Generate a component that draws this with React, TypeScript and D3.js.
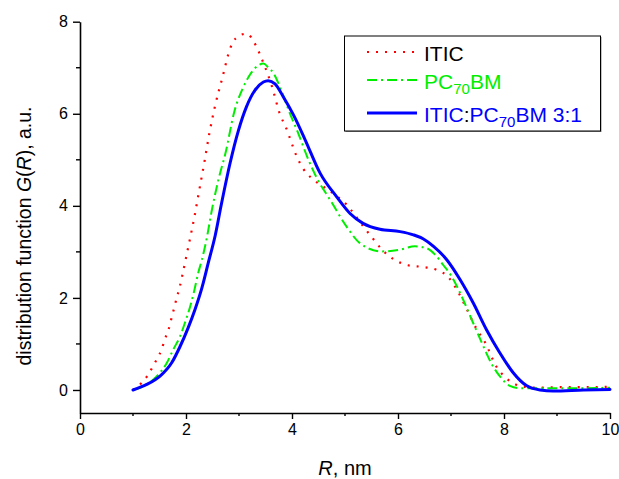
import React, { useEffect, useRef } from "react";
import * as d3 from "d3";

// ITIC (red dotted)
const iticR = [1.0, 1.16, 1.28, 1.37, 1.46, 1.54, 1.6, 1.67, 1.72, 1.77, 1.82, 1.88, 1.94, 2.0, 2.06, 2.16, 2.25, 2.35, 2.44, 2.55, 2.69, 2.83, 2.94, 3.14, 3.32, 3.43, 3.62, 3.77, 3.89, 4.08, 4.21, 4.37, 4.59, 4.81, 5.02, 5.2, 5.36, 5.52, 5.69, 5.93, 6.19, 6.48, 6.73, 6.95, 7.11, 7.3, 7.48, 7.64, 7.86, 8.05, 8.3, 8.58, 9.0, 9.5, 10];
const iticG = [0, 0.15, 0.32, 0.5, 0.69, 0.88, 1.1, 1.31, 1.53, 1.75, 1.98, 2.23, 2.54, 2.87, 3.2, 3.77, 4.34, 4.97, 5.57, 6.18, 6.8, 7.41, 7.64, 7.74, 7.48, 7.19, 6.6, 6.0, 5.69, 5.1, 4.81, 4.6, 4.42, 4.24, 4.04, 3.78, 3.53, 3.3, 3.06, 2.83, 2.71, 2.67, 2.61, 2.45, 2.18, 1.75, 1.33, 1.04, 0.5, 0.25, 0.09, 0.05, 0.06, 0.06, 0.07];

// PC70BM (green dash-dot)
const pcbmR = [1.0, 1.26, 1.45, 1.64, 1.76, 1.89, 1.98, 2.08, 2.16, 2.23, 2.3, 2.38, 2.5, 2.61, 2.75, 2.91, 3.07, 3.18, 3.3, 3.46, 3.55, 3.65, 3.81, 3.95, 4.12, 4.31, 4.47, 4.72, 5.03, 5.28, 5.69, 6.04, 6.32, 6.54, 6.7, 6.85, 7.01, 7.23, 7.39, 7.58, 7.77, 7.92, 8.11, 8.3, 8.7, 9.5, 10];
const pcbmG = [0, 0.12, 0.3, 0.59, 0.88, 1.17, 1.46, 1.82, 2.18, 2.54, 2.83, 3.23, 3.98, 4.56, 5.17, 6.04, 6.55, 6.8, 6.99, 7.09, 7.01, 6.88, 6.47, 6.04, 5.57, 5.0, 4.6, 4.13, 3.55, 3.19, 3.01, 3.05, 3.12, 3.08, 2.94, 2.72, 2.47, 1.96, 1.53, 1.03, 0.56, 0.3, 0.09, 0.04, 0.04, 0.04, 0.05];

// ITIC:PC70BM 3:1 (blue solid)
const blendR = [1.0, 1.26, 1.51, 1.73, 1.89, 2.04, 2.17, 2.3, 2.42, 2.55, 2.67, 2.83, 2.99, 3.14, 3.3, 3.46, 3.55, 3.68, 3.84, 4.03, 4.25, 4.53, 4.84, 5.09, 5.34, 5.66, 6.04, 6.29, 6.48, 6.67, 6.92, 7.17, 7.42, 7.67, 7.92, 8.17, 8.43, 8.68, 8.93, 9.5, 10];
const blendG = [0, 0.12, 0.3, 0.59, 0.95, 1.35, 1.75, 2.22, 2.76, 3.35, 4.05, 4.92, 5.64, 6.15, 6.51, 6.69, 6.72, 6.65, 6.36, 5.97, 5.43, 4.71, 4.2, 3.84, 3.62, 3.49, 3.44, 3.37, 3.28, 3.12, 2.83, 2.4, 1.89, 1.31, 0.81, 0.38, 0.09, 0.0, -0.02, 0.0, 0.01];

const xMajor = [0, 2, 4, 6, 8, 10];
const xMinor = [1, 3, 5, 7, 9];
const yMajor = [0, 2, 4, 6, 8];
const yMinor = [1, 3, 5, 7];

const FONT = "'Liberation Sans', Arial, sans-serif";

const App = () => {
  const svgRef = useRef<SVGSVGElement>(null);

  useEffect(() => {
    const svg = d3.select(svgRef.current);
    svg.selectAll("*").remove();

    const x = d3.scaleLinear().domain([0, 10]).range([80, 610]);
    const y = d3.scaleLinear().domain([-0.5, 8]).range([413, 21.7]);

    // axes
    const xAxis = d3.axisBottom(x).tickValues(xMajor).tickSize(6).tickSizeOuter(0).tickPadding(5);
    const yAxis = d3.axisLeft(y).tickValues(yMajor).tickSize(7).tickSizeOuter(0).tickPadding(5);

    const gx = svg.append("g").attr("transform", `translate(0,${y(-0.5)})`).call(xAxis);
    const gy = svg.append("g").attr("transform", `translate(${x(0)},0)`).call(yAxis);
    [gx, gy].forEach((g) => {
      g.select(".domain").attr("stroke", "#000").attr("stroke-width", 1.6);
      g.selectAll(".tick line").attr("stroke", "#000").attr("stroke-width", 1.4);
      g.selectAll(".tick text").attr("font-family", FONT).attr("font-size", 16).attr("fill", "#000");
    });

    svg
      .append("g")
      .selectAll("line")
      .data(xMinor)
      .join("line")
      .attr("x1", (d) => x(d))
      .attr("x2", (d) => x(d))
      .attr("y1", y(-0.5))
      .attr("y2", y(-0.5) + 3)
      .attr("stroke", "#000")
      .attr("stroke-width", 1.4);
    svg
      .append("g")
      .selectAll("line")
      .data(yMinor)
      .join("line")
      .attr("x1", x(0) - 4)
      .attr("x2", x(0))
      .attr("y1", (d) => y(d))
      .attr("y2", (d) => y(d))
      .attr("stroke", "#000")
      .attr("stroke-width", 1.4);

    // axis titles
    const xt = svg
      .append("text")
      .attr("x", 345)
      .attr("y", 475)
      .attr("text-anchor", "middle")
      .attr("font-family", FONT)
      .attr("font-size", 20);
    xt.append("tspan").attr("font-style", "italic").text("R");
    xt.append("tspan").text(", nm");

    const yt = svg
      .append("text")
      .attr("transform", `translate(31,236) rotate(-90)`)
      .attr("text-anchor", "middle")
      .attr("font-family", FONT)
      .attr("font-size", 19.5);
    yt.append("tspan").text("distribution function ");
    yt.append("tspan").attr("font-style", "italic").text("G");
    yt.append("tspan").text("(");
    yt.append("tspan").attr("font-style", "italic").text("R");
    yt.append("tspan").text("), a.u.");

    // curves
    const line = d3
      .line<[number, number]>()
      .x((d) => x(d[0]))
      .y((d) => y(d[1]))
      .curve(d3.curveMonotoneX);

    const series = [
      { r: iticR, g: iticG, color: "#ff0000", width: 2.2, dash: "2 7", cap: "butt" },
      { r: pcbmR, g: pcbmG, color: "#00ee00", width: 2, dash: "10 4 2 4", cap: "butt" },
      { r: blendR, g: blendG, color: "#0000ff", width: 3, dash: null, cap: "round" },
    ];

    series.forEach((s) => {
      const pts = s.r.map((r, i) => [r, s.g[i]] as [number, number]);
      svg
        .append("path")
        .datum(pts)
        .attr("d", line)
        .attr("fill", "none")
        .attr("stroke", s.color)
        .attr("stroke-width", s.width)
        .attr("stroke-dasharray", s.dash)
        .attr("stroke-linecap", s.cap);
    });

    // legend
    const lg = svg.append("g").attr("font-family", FONT);
    lg.append("rect").attr("x", 345.5).attr("y", 37).attr("width", 256).attr("height", 95).attr("fill", "#888").attr("stroke", "none");
    lg.append("rect").attr("x", 344.5).attr("y", 36).attr("width", 256).attr("height", 95).attr("fill", "#fff").attr("stroke", "#000").attr("stroke-width", 1);

    const rows = [52, 80, 113];
    series.forEach((s, i) => {
      lg.append("line")
        .attr("x1", 367)
        .attr("x2", 417)
        .attr("y1", rows[i])
        .attr("y2", rows[i])
        .attr("stroke", s.color)
        .attr("stroke-width", s.width)
        .attr("stroke-dasharray", s.dash);
    });

    const t1 = lg.append("text").attr("x", 424).attr("y", rows[0] + 9).attr("font-size", 21).attr("fill", "#000");
    t1.text("ITIC");

    const t2 = lg.append("text").attr("x", 424).attr("y", rows[1] + 9).attr("font-size", 21).attr("fill", "#00ee00");
    t2.append("tspan").text("PC");
    t2.append("tspan").attr("font-size", 15).attr("dy", 5).text("70");
    t2.append("tspan").attr("dy", -5).text("BM");

    const t3 = lg.append("text").attr("x", 424).attr("y", rows[2] + 9).attr("font-size", 21).attr("fill", "#0000ff");
    t3.append("tspan").text("ITIC");
    t3.append("tspan").attr("fill", "#000").text(":");
    t3.append("tspan").text("PC");
    t3.append("tspan").attr("font-size", 15).attr("dy", 5).text("70");
    t3.append("tspan").attr("dy", -5).text("BM 3:1");
  }, []);

  return (
    <svg
      ref={svgRef}
      width={619}
      height={479}
      style={{ position: "absolute", left: 0, top: 0, background: "#fff" }}
    />
  );
};

export default App;
